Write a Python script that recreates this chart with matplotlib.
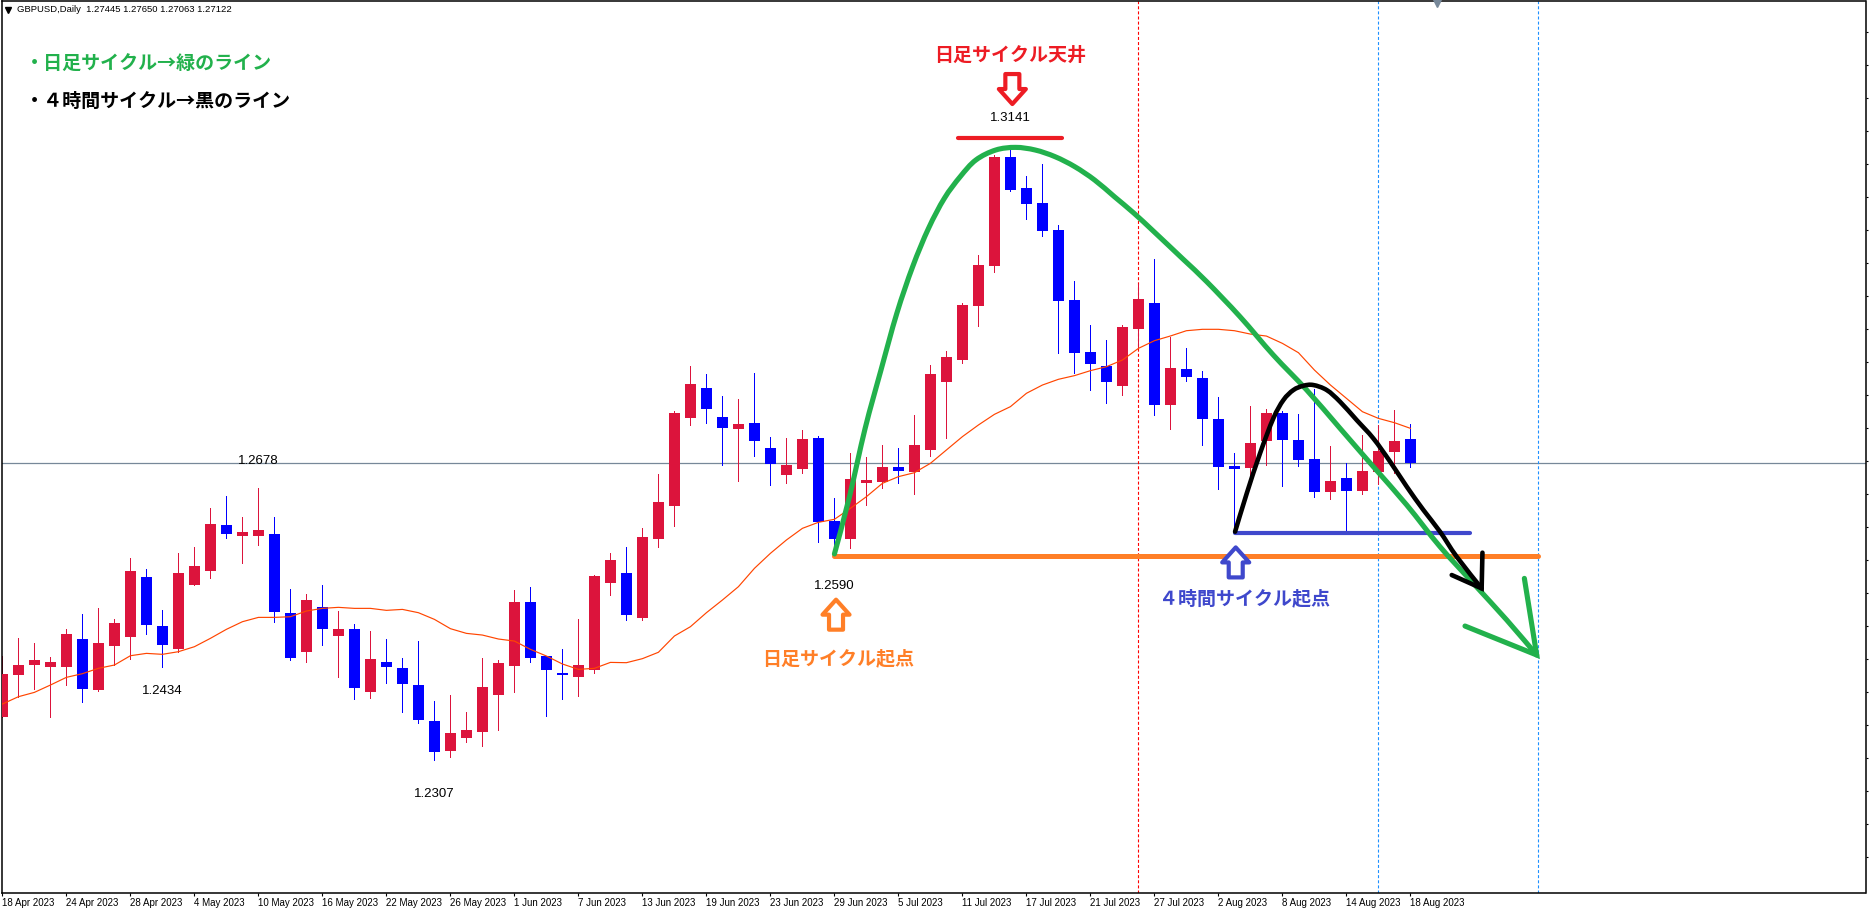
import matplotlib
matplotlib.use("Agg")
import matplotlib.pyplot as plt
from matplotlib.patches import Polygon, PathPatch
from matplotlib.path import Path
from matplotlib.transforms import IdentityTransform

W, H = 1871, 913
JP = ['Noto Sans CJK JP', 'DejaVu Sans']
LATIN = ['Liberation Sans', 'DejaVu Sans']

opens = [1.23660,1.24229,1.24365,1.24338,1.24338,1.24720,1.24024,1.24624,1.24747,1.25565,
         1.24897,1.24583,1.25456,1.25647,1.26275,1.26125,1.26125,1.26152,1.25074,1.24542,
         1.25156,1.24761,1.24856,1.23997,1.24406,1.24324,1.24092,1.23601,1.23192,1.23369,
         1.23451,1.23956,1.24351,1.25224,1.24488,1.24256,1.24201,1.24297,1.25484,1.25621,
         1.25007,1.26085,1.26535,1.27735,1.28144,1.27749,1.27585,1.27667,1.27326,1.26958,
         1.27039,1.27462,1.26330,1.26085,1.26849,1.26862,1.27067,1.26999,1.27299,1.28226,
         1.28526,1.29263,1.29809,1.31295,1.30873,1.30668,1.30300,1.29345,1.28635,1.28445,
         1.28172,1.28949,1.29304,1.27912,1.28404,1.28281,1.27722,1.27080,1.27052,1.27421,
         1.27803,1.27434,1.27175,1.26725,1.26916,1.26739,1.26998,1.27271,1.27445]
highs = [1.24488,1.24733,1.24665,1.24474,1.24856,1.25061,1.25143,1.24993,1.25825,1.25675,
         1.25115,1.25893,1.25975,1.26507,1.26670,1.26384,1.26780,1.26384,1.25402,1.25334,
         1.25456,1.25102,1.24924,1.24829,1.24720,1.24461,1.24692,1.23874,1.23956,1.23724,
         1.24461,1.24433,1.25388,1.25429,1.24488,1.24583,1.24993,1.25593,1.25893,1.25975,
         1.26235,1.26971,1.27831,1.28445,1.28335,1.28035,1.27994,1.28349,1.27476,1.27462,
         1.27571,1.27490,1.26644,1.27258,1.27203,1.27367,1.27326,1.27776,1.28458,1.28649,
         1.29304,1.29959,1.31323,1.31410,1.31036,1.31200,1.30368,1.29604,1.29004,1.28799,
         1.29004,1.29563,1.29904,1.28840,1.28690,1.28376,1.28022,1.27257,1.27898,1.27857,
         1.27830,1.27789,1.28130,1.27353,1.27121,1.27503,1.27639,1.27844,1.27650]
lows = [1.23660,1.23933,1.24038,1.23660,1.24092,1.23860,1.24010,1.24365,1.24447,1.24788,
        1.24338,1.24547,1.25456,1.25552,1.26097,1.25756,1.26002,1.24952,1.24433,1.24406,
        1.24638,1.24201,1.23901,1.23915,1.24120,1.23724,1.23574,1.23070,1.23110,1.23315,
        1.23260,1.23478,1.23997,1.24406,1.23669,1.23901,1.23942,1.24256,1.25320,1.24980,
        1.24980,1.25975,1.26262,1.27640,1.27667,1.27094,1.26876,1.27217,1.26821,1.26849,
        1.26985,1.26044,1.25900,1.25962,1.26548,1.26780,1.26849,1.26698,1.27217,1.27462,
        1.28485,1.28990,1.29727,1.30832,1.30450,1.30218,1.28622,1.28349,1.28117,1.27940,
        1.28049,1.28708,1.27776,1.27585,1.28240,1.27367,1.26767,1.26207,1.26957,1.27093,
        1.26807,1.27080,1.26657,1.26630,1.26193,1.26698,1.26834,1.26984,1.27063]
closes = [1.24242,1.24365,1.24433,1.24406,1.24788,1.24038,1.24665,1.24938,1.25647,1.24911,
          1.24638,1.25620,1.25716,1.26288,1.26152,1.26179,1.26207,1.25088,1.24461,1.25252,
          1.24856,1.24856,1.24051,1.24447,1.24338,1.24106,1.23615,1.23178,1.23438,1.23478,
          1.24065,1.24392,1.25224,1.24461,1.24297,1.24229,1.24365,1.25579,1.25797,1.25048,
          1.26112,1.26589,1.27803,1.28199,1.27858,1.27599,1.27653,1.27421,1.27108,1.27094,
          1.27449,1.26317,1.26085,1.26903,1.26889,1.27067,1.27012,1.27367,1.28335,1.28567,
          1.29277,1.29822,1.31295,1.30845,1.30654,1.30286,1.29331,1.28622,1.28472,1.28226,
          1.28976,1.29358,1.27912,1.28417,1.28294,1.27722,1.27067,1.27039,1.27393,1.27803,
          1.27434,1.27162,1.26725,1.26875,1.26739,1.27012,1.27284,1.27421,1.27122]
ma_line = [1.23833,1.23933,1.23992,1.24092,1.24197,1.24247,1.24320,1.24365,1.24492,1.24524,
           1.24511,1.24547,1.24615,1.24729,1.24852,1.24956,1.25015,1.25015,1.25024,1.25102,
           1.25138,1.25152,1.25138,1.25138,1.25111,1.25124,1.25079,1.24988,1.24861,1.24797,
           1.24774,1.24720,1.24692,1.24579,1.24488,1.24379,1.24306,1.24320,1.24401,1.24397,
           1.24452,1.24539,1.24761,1.24888,1.25079,1.25252,1.25434,1.25684,1.25889,1.26071,
           1.26230,1.26312,1.26353,1.26503,1.26662,1.26844,1.26935,1.26989,1.27117,1.27299,
           1.27481,1.27640,1.27785,1.27890,1.28072,1.28185,1.28263,1.28313,1.28381,1.28435,
           1.28526,1.28685,1.28790,1.28854,1.28926,1.28945,1.28945,1.28926,1.28880,1.28853,
           1.28753,1.28626,1.28389,1.28185,1.28003,1.27821,1.27730,1.27671,1.27594]

date_labels = ['18 Apr 2023','24 Apr 2023','28 Apr 2023','4 May 2023','10 May 2023','16 May 2023',
               '22 May 2023','26 May 2023','1 Jun 2023','7 Jun 2023','13 Jun 2023','19 Jun 2023',
               '23 Jun 2023','29 Jun 2023','5 Jul 2023','11 Jul 2023','17 Jul 2023','21 Jul 2023',
               '27 Jul 2023','2 Aug 2023','8 Aug 2023','14 Aug 2023','18 Aug 2023']

last_price = 1.27122
red_vline = 71
blue_vlines = [86, 96]

# hand drawn cycle lines, bar number / price
green_x = [52.0,52.94,53.92,54.91,55.90,56.89,57.88,58.87,59.86,60.84,62.08,63.32,64.55,65.79,67.02,
           68.26,69.50,70.73,71.97,73.80,75.27,77.35,79.43,81.52,83.60,85.68,87.77,89.85,91.93,94.02,95.89]
green_y = [1.25880,1.26662,1.27594,1.28390,1.29163,1.29800,1.30322,1.30732,1.31027,1.31255,1.31391,1.31427,
           1.31391,1.31300,1.31164,1.30982,1.30754,1.30527,1.30277,1.29900,1.29594,1.29117,1.28594,
           1.28116,1.27594,1.27071,1.26548,1.25979,1.25479,1.24979,1.24502]
green_head_x = [95.12, 95.89, 91.41]
green_head_y = [1.25547, 1.24502, 1.24897]
black_x = [77.04,77.77,78.6,79.43,80.06,80.68,81.31,81.93,82.77,83.6,84.64,85.68,86.73,87.77,88.81,89.85,90.89,92.45]
black_y = [1.26184,1.26707,1.27253,1.27730,1.27980,1.28116,1.28175,1.28185,1.28116,1.27957,1.27707,1.27457,
           1.27139,1.26798,1.26480,1.26184,1.25843,1.25411]
black_head_x = [92.50, 92.45, 90.58]
black_head_y = [1.25898, 1.25411, 1.25593]
orange_level = 1.25848
orange_span = [52.0, 96.0]
blue_level = 1.26161
blue_span = [77.04, 91.73]
red_level = 1.31555
red_span = [59.73, 66.23]

# high/low price labels: bar, price, text, pixel offset
price_labels = [(16, 1.2678, '1.2678', -27), (10, 1.2434, '1.2434', 24), (27, 1.2307, '1.2307', 34),
                (63, 1.3141, '1.3141', -31), (52, 1.2590, '1.2590', 33)]

fig = plt.figure(figsize=(W / 100, H / 100), dpi=100)
ax = fig.add_axes([2 / W, (H - 893) / H, 1863.5 / W, 892 / H])
ax.set_xlim(-0.025, 116.44)
ax.set_ylim(1.21255, 1.33424)

bars = list(range(len(opens)))
RED = '#DC143C'
BLUE = '#0000FF'
colors = [RED if c > o else BLUE for o, c in zip(opens, closes)]

ax.axhline(last_price, color='#778899', lw=0.9, zorder=1)
ax.axvline(red_vline, color='#FF0000', lw=0.8, ls=(0, (2.7, 1.9)), zorder=1)
for b in blue_vlines:
    ax.axvline(b, color='#1E90FF', lw=0.8, ls=(0, (2.7, 1.9)), zorder=1)

ax.vlines(bars, lows, highs, colors=colors, lw=0.6, antialiased=False, zorder=2)
ax.bar(bars, [abs(c - o) for o, c in zip(opens, closes)], bottom=[min(o, c) for o, c in zip(opens, closes)],
       width=11 / 16, color=colors, linewidth=0, antialiased=False, zorder=3)
ax.plot(bars, ma_line, color='#FF4500', lw=0.85, zorder=4)

ax.plot(orange_span, [orange_level] * 2, color='#FF7F27', lw=3.6, solid_capstyle='round', zorder=5)
ax.plot(blue_span, [blue_level] * 2, color='#3F48CC', lw=3.0, solid_capstyle='round', zorder=5)
ax.plot(red_span, [red_level] * 2, color='#ED1C24', lw=3.0, solid_capstyle='round', zorder=5)


def smooth_line(xs, ys, color, lw, zorder):
    # bezier through the read points so the hand drawn curve has no corners
    verts = [(xs[0], ys[0])]
    codes = [Path.MOVETO]
    n = len(xs)
    for k in range(n - 1):
        a, b = max(k - 1, 0), min(k + 2, n - 1)
        verts.append((xs[k] + (xs[k + 1] - xs[a]) / 6, ys[k] + (ys[k + 1] - ys[a]) / 6))
        verts.append((xs[k + 1] - (xs[b] - xs[k]) / 6, ys[k + 1] - (ys[b] - ys[k]) / 6))
        verts.append((xs[k + 1], ys[k + 1]))
        codes += [Path.CURVE4] * 3
    ax.add_patch(PathPatch(Path(verts, codes), fill=False, edgecolor=color, lw=lw, capstyle='round', zorder=zorder))


smooth_line(green_x, green_y, '#22B14C', 3.7, 6)
ax.plot(green_head_x, green_head_y, color='#22B14C', lw=3.7, solid_capstyle='round', solid_joinstyle='miter', zorder=6)
smooth_line(black_x, black_y, '#000000', 3.3, 7)
ax.plot(black_head_x, black_head_y, color='#000000', lw=3.3, solid_capstyle='round', solid_joinstyle='miter', zorder=7)

for spine in ax.spines.values():
    spine.set_linewidth(1.1)
    spine.set_color('black')

ax.set_xticks(list(range(0, 89, 4)))
ax.set_xticklabels(date_labels, family=LATIN, fontsize=7.0, ha='left')
ax.tick_params(axis='x', length=2.5, width=0.8, pad=1)
ax.yaxis.tick_right()
ax.set_yticks([1.33 - 0.0045 * k for k in range(26)])
ax.set_yticklabels([])
ax.tick_params(axis='y', length=1.5, width=0.8)


def block_arrow(bar, price, direction, color):
    # direction 1 points up, -1 points down, sizes in pixels
    tx, ty = ax.transData.transform((bar, price))
    shape = [(0, -2), (13.5, -17), (7, -17), (7, -32), (-7, -32), (-7, -17), (-13.5, -17)]
    pts = [(tx + dx, ty + direction * dy) for dx, dy in shape]
    ax.add_patch(Polygon(pts, closed=True, facecolor='white', edgecolor=color, lw=3.0,
                         joinstyle='round', transform=IdentityTransform(), zorder=8, clip_on=False))


block_arrow(63.12, 1.31991, -1, '#ED1C24')
block_arrow(52.1, 1.25284, 1, '#FF7F27')
block_arrow(77.08, 1.25997, 1, '#3F48CC')

for b, p, s, off in price_labels:
    ax.annotate(s, (b, p), xytext=(0, -off * 0.72), textcoords='offset points', ha='center', va='center',
                family=LATIN, fontsize=9.5, color='black', zorder=9)


def label(x, y, s, color, ha='left'):
    fig.text(x / W, 1 - y / H, s, color=color, ha=ha, va='center', family=JP, fontweight='bold', fontsize=13.7)


label(25, 64, '・日足サイクル→緑のライン', '#22B14C')
label(25, 101, '・４時間サイクル→黒のライン', '#000000')
label(1010, 55, '日足サイクル天井', '#ED1C24', ha='center')
label(838.5, 659, '日足サイクル起点', '#FF7F27', ha='center')
label(1244.5, 599, '４時間サイクル起点', '#3F48CC', ha='center')

fig.text(17 / W, 1 - 10 / H, 'GBPUSD,Daily  1.27445 1.27650 1.27063 1.27122', family=LATIN, fontsize=6.8,
         color='black', ha='left', va='center')
# small markers the terminal draws in the chart corner
ax.plot([0.35], [1.33424 - 9 * 0.0001364], marker='v', ms=4.5, color='black', clip_on=False, zorder=9)
ax.plot([89.65], [1.33424 - 2 * 0.0001364], marker='v', ms=6, color='#778899', clip_on=False, zorder=9)

fig.savefig('out.png', dpi=100)
